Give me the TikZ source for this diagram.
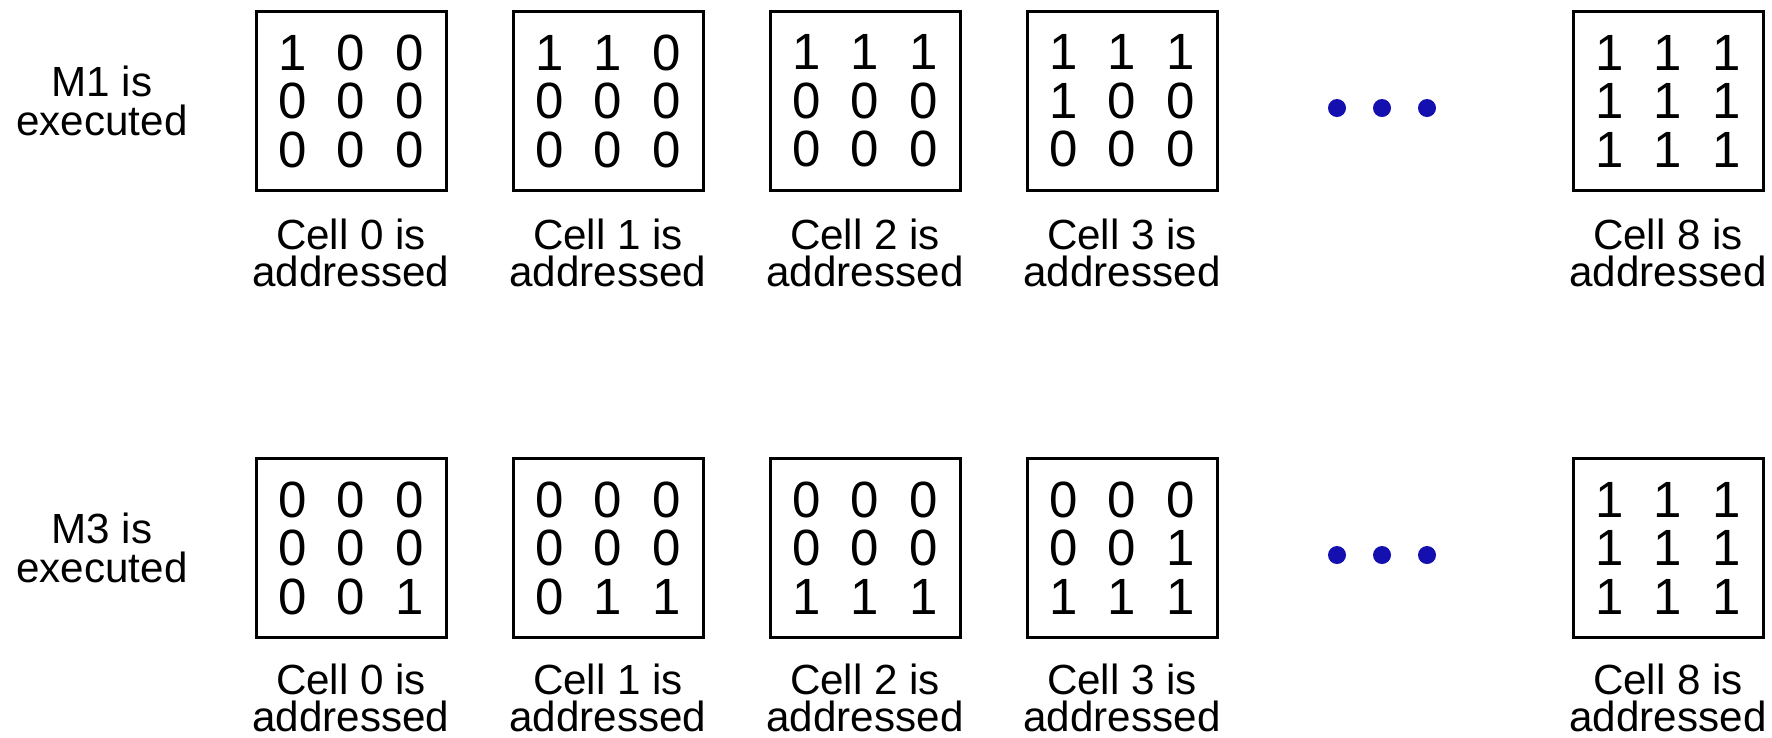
\documentclass[tikz,border=0pt]{standalone}
\usepackage{fontspec}
\setmainfont{Liberation Sans}
\usetikzlibrary{positioning}
\definecolor{dotblue}{RGB}{20,15,175}

\newcommand{\gp}{\hspace{3mm}}
\newcommand{\bits}[9]{#1\gp#2\gp#3\\#4\gp#5\gp#6\\#7\gp#8\gp#9}

\begin{document}
\begin{tikzpicture}[
  x=0.1mm, y=-0.1mm,
  node distance=6.4mm,
  cellbox/.style={draw,line width=0.3mm,minimum width=19mm,minimum height=17.9mm,inner sep=0pt,
    align=center,font=\fontsize{14.5}{13.8}\selectfont},
  celllabel/.style={align=center,inner sep=0pt,font=\fontsize{12}{10.5}\selectfont},
  rowlabel/.style={align=center,inner sep=0pt,font=\fontsize{12}{11}\selectfont},
  dot/.style={circle,fill=dotblue,inner sep=0pt,minimum size=1.8mm}
]
\useasboundingbox (0,0) rectangle (1772,737);

% M1 row
\node[rowlabel] (m1) at (102,101) {M1 is\\executed};
\node[cellbox] (a0) at (351,101) {\bits100000000};
\node[cellbox, right=of a0] (a1) {\bits110000000};
\node[cellbox, right=of a1] (a2) {\bits111000000};
\node[cellbox, right=of a2] (a3) {\bits111100000};
\node[cellbox, right=35.3mm of a3] (a8) {\bits111111111};
\node[celllabel, below=2.6mm of a0] (la0) {Cell 0 is\\addressed};
\node[celllabel, below=2.6mm of a1] (la1) {Cell 1 is\\addressed};
\node[celllabel, below=2.6mm of a2] (la2) {Cell 2 is\\addressed};
\node[celllabel, below=2.6mm of a3] (la3) {Cell 3 is\\addressed};
\node[celllabel, below=2.6mm of a8] (la8) {Cell 8 is\\addressed};
\node[dot] (ad1) at (1337,108) {};
\node[dot] (ad2) at (1382,108) {};
\node[dot] (ad3) at (1427,108) {};

% M3 row
\node[rowlabel] (m3) at (102,548) {M3 is\\executed};
\node[cellbox] (b0) at (351,548) {\bits000000001};
\node[cellbox, right=of b0] (b1) {\bits000000011};
\node[cellbox, right=of b1] (b2) {\bits000000111};
\node[cellbox, right=of b2] (b3) {\bits000001111};
\node[cellbox, right=35.3mm of b3] (b8) {\bits111111111};
\node[celllabel, below=2.4mm of b0] (lb0) {Cell 0 is\\addressed};
\node[celllabel, below=2.4mm of b1] (lb1) {Cell 1 is\\addressed};
\node[celllabel, below=2.4mm of b2] (lb2) {Cell 2 is\\addressed};
\node[celllabel, below=2.4mm of b3] (lb3) {Cell 3 is\\addressed};
\node[celllabel, below=2.4mm of b8] (lb8) {Cell 8 is\\addressed};
\node[dot] (bd1) at (1337,555) {};
\node[dot] (bd2) at (1382,555) {};
\node[dot] (bd3) at (1427,555) {};
\end{tikzpicture}
\end{document}
